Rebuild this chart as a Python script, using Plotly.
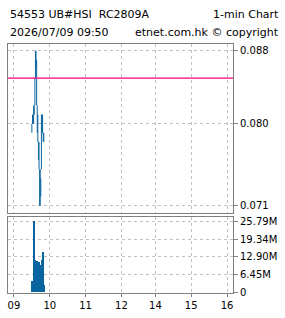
import plotly.graph_objects as go

# ---- data ----
times = ["09:30","09:31","09:32","09:33","09:34","09:35","09:36","09:37","09:38","09:39",
         "09:40","09:41","09:42","09:43","09:44","09:45","09:46","09:47","09:48","09:49","09:50"]
high = [0.080,0.081,0.081,0.082,0.082,0.085,0.088,0.088,0.087,0.082,
        0.081,0.078,0.078,0.075,0.075,0.074,0.081,0.081,0.081,0.079,0.079]
low  = [0.079,0.080,0.080,0.080,0.081,0.082,0.085,0.086,0.082,0.079,
        0.078,0.076,0.075,0.071,0.071,0.072,0.075,0.079,0.079,0.078,0.078]
volume = [4.0e6,3.6e6,3.4e6,25.79e6,10.6e6,6.5e6,11.8e6,7.4e6,11.2e6,6.1e6,
          10.9e6,5.8e6,10.9e6,7.2e6,9.8e6,6.5e6,11.5e6,8.2e6,14.4e6,2.8e6,2.5e6]
prev_close = 0.085

x_tick_labels = ["09","10","11","12","14","15","16"]
x_tick_times = ["09:00","10:00","11:00","12:00","14:00","15:00","16:00"]
price_ticks = [0.071, 0.080, 0.088]
price_tick_text = ["0.071", "0.080", "0.088"]
vol_ticks = [0, 6.45e6, 12.90e6, 19.34e6, 25.79e6]
vol_tick_text = ["0", "6.45M", "12.90M", "19.34M", "25.79M"]

title_left = "54553 UB#HSI  RC2809A"
title_right = "1-min Chart"
sub_left = "2026/07/09 09:50"
sub_right = "etnet.com.hk \u00a9 copyright"


def tmin(t):
    h, m = map(int, t.split(":"))
    v = (h - 9) * 60 + m
    if h >= 13:
        v -= 63  # lunch break compressed
    return v


xs = [tmin(t) for t in times]
xt = [tmin(t) for t in x_tick_times]

BLUE = "#0a64a0"
FONT = dict(family="DejaVu Sans", size=11, color="black")
TFONT = dict(family="DejaVu Sans", size=10, color="black")

px_, py_ = [], []
for x, h, l in zip(xs, high, low):
    px_ += [x, x, None]
    py_ += [l, h, None]

fig = go.Figure()
fig.add_trace(go.Scatter(x=px_, y=py_, mode="lines", line=dict(color=BLUE, width=1),
                         xaxis="x", yaxis="y", hoverinfo="skip", showlegend=False))
fig.add_trace(go.Scatter(x=[-10, 367], y=[prev_close, prev_close], mode="lines",
                         line=dict(color="#ff0080", width=1.2), xaxis="x", yaxis="y",
                         hoverinfo="skip", showlegend=False))
fig.add_trace(go.Bar(x=xs, y=volume, width=1.4, marker=dict(color=BLUE, line=dict(width=0)),
                     xaxis="x2", yaxis="y2", showlegend=False))

W, H = 285, 318
xdom = [8 / W, 233 / W]
grid = dict(showgrid=True, gridcolor="#c0c0c0", gridwidth=1, griddash="3px,3px")
border = dict(showline=True, linecolor="#808080", linewidth=1, mirror=True, zeroline=False)
xr = [-10, 367]

fig.update_layout(
    width=W, height=H, margin=dict(l=0, r=0, t=0, b=0),
    paper_bgcolor="white", plot_bgcolor="white", font=FONT, bargap=0,
    xaxis=dict(domain=xdom, anchor="y", range=xr, tickvals=xt, showticklabels=False,
               ticks="", **grid, **border),
    yaxis=dict(domain=[1 - 216 / H, 1 - 43 / H], anchor="x", side="right",
               range=[0.07025, 0.08875], tickvals=price_ticks, ticktext=price_tick_text,
               ticks="outside", ticklen=4, tickcolor="#808080", tickfont=TFONT,
               **grid, **border),
    xaxis2=dict(domain=xdom, anchor="y2", range=xr, tickvals=xt, ticktext=x_tick_labels,
                ticks="outside", ticklen=3, tickcolor="#808080", tickfont=TFONT,
                **grid, **border),
    yaxis2=dict(domain=[1 - 298 / H, 1 - 221 / H], anchor="x2", side="right",
                range=[0, 25.79e6 * 77 / 73], tickvals=vol_ticks, ticktext=vol_tick_text,
                ticks="outside", ticklen=4, tickcolor="#808080", tickfont=TFONT,
                **grid, **border),
)

ann = [
    (8, 13, title_left, "left"),
    (281, 13, title_right, "right"),
    (8, 31, sub_left, "left"),
    (281, 31, sub_right, "right"),
]
for x, y, t, a in ann:
    fig.add_annotation(x=x / W, y=1 - y / H, xref="paper", yref="paper", text=t,
                       showarrow=False, xanchor=a, yanchor="middle", font=FONT)

fig.write_html("out.html")
